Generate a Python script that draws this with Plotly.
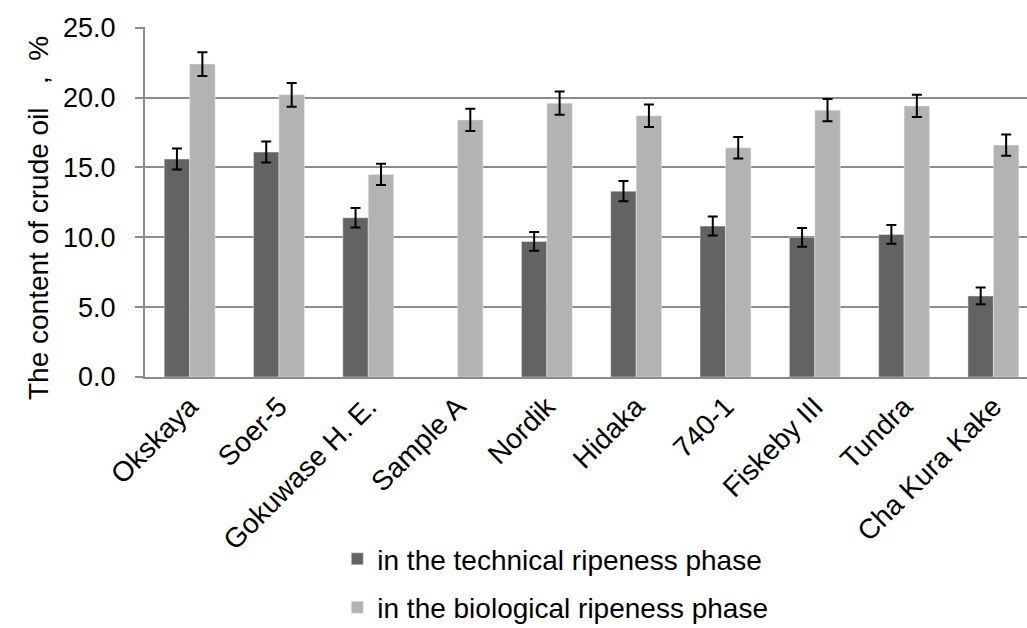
import plotly.graph_objects as go

categories = ["Okskaya", "Soer-5", "Gokuwase H. E.", "Sample A", "Nordik",
              "Hidaka", "740-1", "Fiskeby III", "Tundra", "Cha Kura Kake"]
technical = [15.6, 16.1, 11.4, None, 9.7, 13.3, 10.8, 10.0, 10.2, 5.8]
technical_err = [0.75, 0.75, 0.7, None, 0.67, 0.72, 0.68, 0.67, 0.67, 0.6]
biological = [22.4, 20.2, 14.5, 18.4, 19.6, 18.7, 16.4, 19.1, 19.4, 16.6]
biological_err = [0.85, 0.85, 0.76, 0.8, 0.83, 0.8, 0.77, 0.8, 0.8, 0.76]
y_ticks = [0, 5, 10, 15, 20, 25]
y_title = "The content of crude oil\u00a0\u00a0\u00a0,\u00a0\u00a0%"

FONT = "Liberation Sans, Arial, sans-serif"
GRID = "#8c8c8c"

fig = go.Figure()
fig.add_trace(go.Bar(
    x=categories, y=technical, name="in the technical ripeness phase",
    marker=dict(color="#636363"), legendgroup="a",
    error_y=dict(type="data", array=technical_err, color="black", thickness=2, width=5),
))
fig.add_trace(go.Bar(
    x=categories, y=biological, name="in the biological ripeness phase",
    marker=dict(color="#b3b3b3"), legendgroup="b",
    error_y=dict(type="data", array=biological_err, color="black", thickness=2, width=5),
))

fig.update_layout(
    width=1027, height=628,
    margin=dict(l=145, r=0, t=27, b=251, autoexpand=False),
    paper_bgcolor="white", plot_bgcolor="white",
    barmode="group", bargap=0.43, bargroupgap=0,
    font=dict(family=FONT, color="black"),
    showlegend=True,
    legend=dict(
        orientation="v", x=0.218, xanchor="left", y=-0.449, yanchor="top",
        font=dict(size=28, family=FONT, color="black"),
        tracegroupgap=9, bgcolor="rgba(0,0,0,0)",
    ),
    xaxis=dict(
        range=[-0.5, 9.376], tickangle=-45, showgrid=False,
        showline=True, linecolor=GRID, linewidth=2,
        ticks="", tickfont=dict(size=28, family=FONT, color="black"),
    ),
    yaxis=dict(
        range=[0, 25.05], tickvals=y_ticks, tickformat=".1f",
        showgrid=True, gridcolor=GRID, gridwidth=1.5,
        showline=True, linecolor=GRID, linewidth=2,
        ticks="outside", ticklen=8, tickcolor=GRID, tickwidth=1.5,
        ticklabelstandoff=14, zeroline=False,
        tickfont=dict(size=27, family=FONT, color="black"),
    ),
    annotations=[dict(
        text=y_title, textangle=-90, showarrow=False,
        xref="paper", yref="paper", x=-0.121, y=0.455,
        xanchor="center", yanchor="middle",
        font=dict(size=28, family=FONT, color="black"),
    )],
)

fig.write_html(
    "out.html",
    config={"displayModeBar": False},
    post_script="document.body.style.margin='0';document.body.style.overflow='hidden';",
)
